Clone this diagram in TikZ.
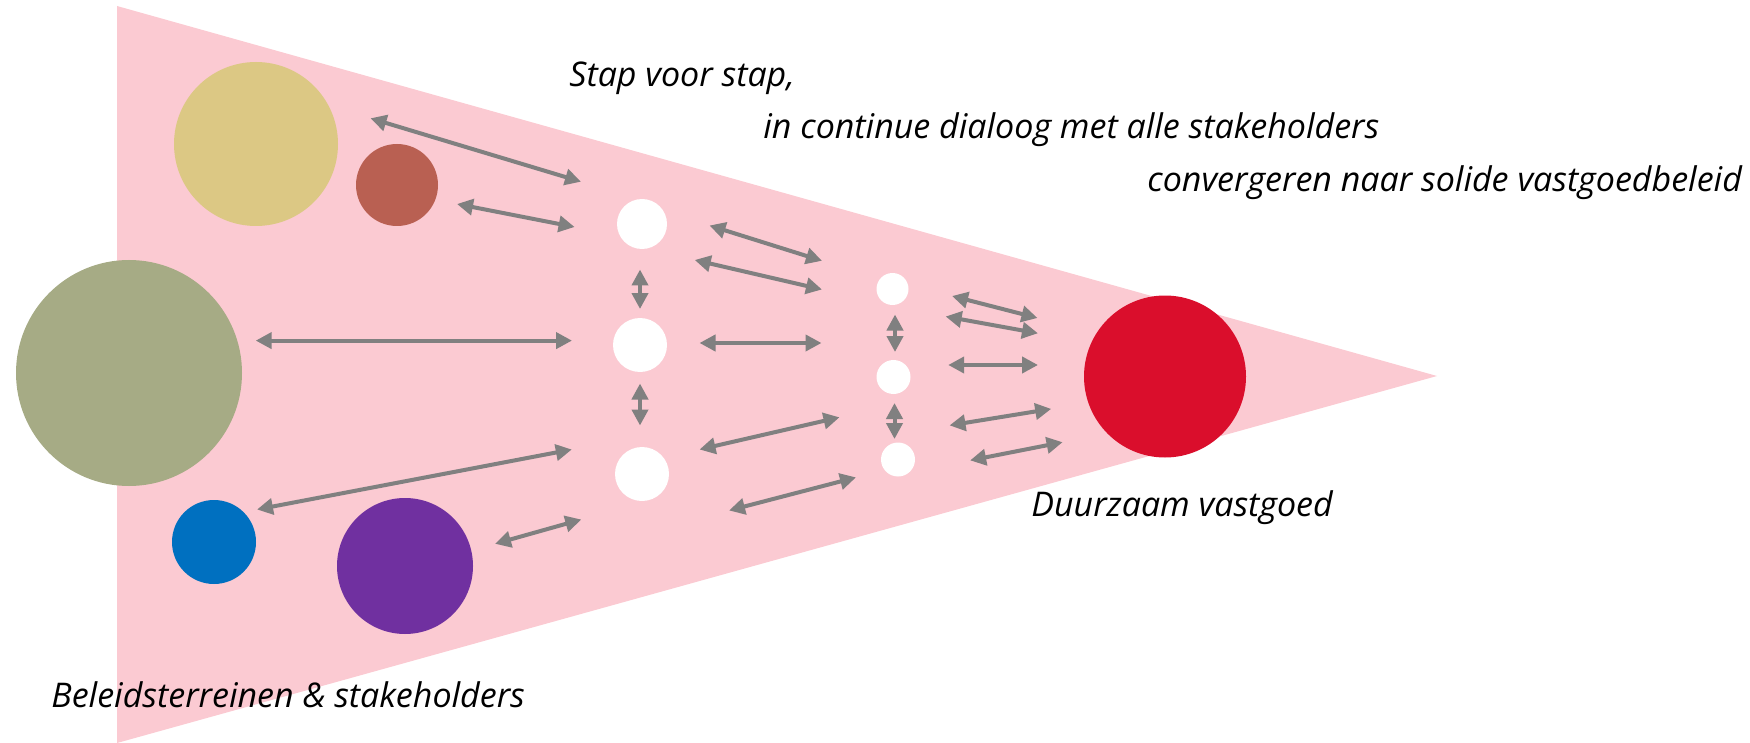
\documentclass[tikz,border=0pt]{standalone}
\usepackage{fontspec}
\setmainfont{Open Sans}
\usetikzlibrary{arrows.meta}
\definecolor{pinkbg}{RGB}{251,202,210}
\definecolor{cyellow}{RGB}{220,200,132}
\definecolor{cbrown}{RGB}{185,96,82}
\definecolor{cgreen}{RGB}{166,171,133}
\definecolor{cblue}{RGB}{0,112,192}
\definecolor{cpurple}{RGB}{112,48,160}
\definecolor{cred}{RGB}{218,14,44}
\definecolor{arrowgray}{RGB}{128,128,128}
\begin{document}
\begin{tikzpicture}[x=0.5pt,y=-0.5pt,
  blob/.style={circle,inner sep=0pt,draw=none,minimum size=#1},
  conn/.style={draw=arrowgray,line width=2pt,
    {Triangle[length=8pt,width=8pt]}-{Triangle[length=8pt,width=8pt]}},
  lbl/.style={anchor=base west,inner sep=0pt,font=\itshape\fontsize{17}{20}\selectfont}]
\useasboundingbox (0,0) rectangle (1750,743);
% funnel
\fill[pinkbg] (117,6) -- (1437,376) -- (117,743) -- cycle;
% circles (minimum size in pt = radius in px)
\node[blob=82pt,fill=cyellow] (yel) at (256,144) {};
\node[blob=41pt,fill=cbrown] (brn) at (397,185) {};
\node[blob=113pt,fill=cgreen] (grn) at (129,373) {};
\node[blob=42pt,fill=cblue] (blu) at (214,542) {};
\node[blob=68pt,fill=cpurple] (pur) at (405,566) {};
\node[blob=25pt,fill=white] (w1) at (642,224) {};
\node[blob=27pt,fill=white] (w2) at (640,345) {};
\node[blob=27pt,fill=white] (w3) at (642,474) {};
\node[blob=16pt,fill=white] (v1) at (892.5,289) {};
\node[blob=17pt,fill=white] (v2) at (893.5,377) {};
\node[blob=17pt,fill=white] (v3) at (898,459.5) {};
\node[blob=81pt,fill=cred] (red) at (1165,376.5) {};
% arrow end points
\coordinate (a1s) at (370.5,118.3); \coordinate (a1e) at (581,181.7);
\coordinate (a2s) at (457,204);     \coordinate (a2e) at (574.6,227);
\coordinate (a3s) at (255.7,340.6); \coordinate (a3e) at (572,340.6);
\coordinate (a4s) at (640,269.5);   \coordinate (a4e) at (640,309);
\coordinate (a5s) at (640,383.5);   \coordinate (a5e) at (640,425.5);
\coordinate (a6s) at (257,509.5);   \coordinate (a6e) at (571.8,449.5);
\coordinate (a7s) at (495,543.8);   \coordinate (a7e) at (581.3,519.5);
\coordinate (b1s) at (709.5,225.5); \coordinate (b1e) at (822,260.8);
\coordinate (b2s) at (694.7,260);   \coordinate (b2e) at (822,289.5);
\coordinate (b3s) at (699.5,343);   \coordinate (b3e) at (821.5,343);
\coordinate (b4s) at (699.5,449.5); \coordinate (b4e) at (839.5,417.3);
\coordinate (b5s) at (729,510.5);   \coordinate (b5e) at (856,477.4);
\coordinate (u1s) at (895,314.5);   \coordinate (u1e) at (895,352);
\coordinate (u2s) at (894.5,403);   \coordinate (u2e) at (894.5,439);
\coordinate (c1s) at (952,296);     \coordinate (c1e) at (1037.5,318);
\coordinate (c2s) at (945.6,316.5); \coordinate (c2e) at (1038,333.3);
\coordinate (c3s) at (948.2,365);   \coordinate (c3e) at (1038,365);
\coordinate (c4s) at (949.5,425.4); \coordinate (c4e) at (1051.2,408.9);
\coordinate (c5s) at (970.1,460.4); \coordinate (c5e) at (1062.6,442.2);
% connectors
\foreach \n in {a1,a2,a3,a4,a5,a6,a7,b1,b2,b3,b4,b5,u1,u2,c1,c2,c3,c4,c5}
  \draw[conn] (\n s) -- (\n e);
% labels
\node[lbl] (t1) at (569,86.7) {Stap voor stap,};
\node[lbl] (t2) at (763,139) {in continue dialoog met alle stakeholders};
\node[lbl] (t3) at (1147,191.5) {convergeren naar solide vastgoedbeleid};
\node[lbl] (t4) at (1031,516.7) {Duurzaam vastgoed};
\node[lbl] (t5) at (51,707.3) {Beleidsterreinen \& stakeholders};
\end{tikzpicture}
\end{document}
